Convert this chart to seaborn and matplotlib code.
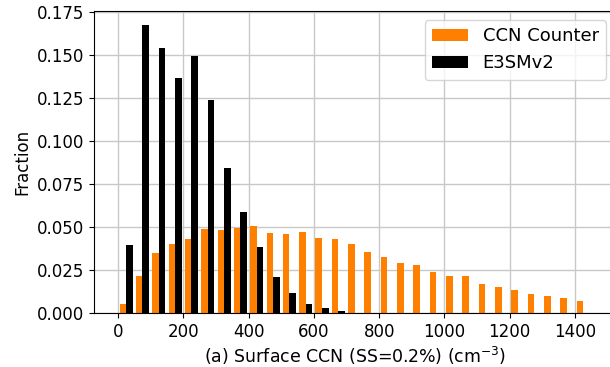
import numpy as np
import pandas as pd
import matplotlib
matplotlib.use("Agg")
import matplotlib.pyplot as plt
import seaborn as sns
from matplotlib.patches import Patch

# Bin edges (cm^-3)
bin_edges = list(range(0, 1451, 50))
bin_centers = [e + 25 for e in bin_edges[:-1]]

ccn_counter = [0.0056, 0.0217, 0.0351, 0.0401, 0.0434, 0.0488, 0.0484, 0.0496,
               0.0506, 0.0469, 0.0459, 0.0471, 0.0438, 0.0434, 0.0402, 0.0356,
               0.0329, 0.0292, 0.0283, 0.0240, 0.0215, 0.0215, 0.0172, 0.0155,
               0.0134, 0.0114, 0.0099, 0.0087, 0.0072]
e3smv2 = [0.0395, 0.1674, 0.1540, 0.1366, 0.1496, 0.1240, 0.0843, 0.0591,
          0.0384, 0.0211, 0.0118, 0.0054, 0.0032, 0.0015, 0.0004, 0.0003,
          0.0, 0.0, 0.0, 0.0, 0.0, 0.0, 0.0, 0.0, 0.0, 0.0, 0.0, 0.0, 0.0]

series_names = ["CCN Counter", "E3SMv2"]
colors = {"CCN Counter": "#ff8000", "E3SMv2": "#000000"}

xticks = list(range(0, 1401, 200))
yticks = [0.0, 0.025, 0.05, 0.075, 0.1, 0.125, 0.15, 0.175]

df = pd.DataFrame({
    "ccn": bin_centers * 2,
    "frac": ccn_counter + e3smv2,
    "source": [series_names[0]] * len(bin_centers) + [series_names[1]] * len(bin_centers),
})

fig = plt.figure(figsize=(6.10, 3.67), dpi=100)
ax = fig.add_axes([94.3 / 610, 53.7 / 367, 520.7 / 610, 302.3 / 367])

sns.histplot(data=df, x="ccn", weights="frac", hue="source", hue_order=series_names,
             bins=bin_edges, multiple="dodge", shrink=0.8, palette=colors,
             alpha=1.0, linewidth=0, legend=False, ax=ax)

ax.set_axisbelow(True)
ax.grid(True, color="#c8c8c8", linewidth=1.0)
ax.set_xticks(xticks)
ax.set_yticks(yticks)
ax.set_yticklabels([f"{v:.3f}" for v in yticks])
ax.tick_params(labelsize=12)
ax.set_xlabel("(a) Surface CCN (SS=0.2%) (cm$^{-3}$)", fontsize=12.5, labelpad=3)
ax.set_ylabel("Fraction", fontsize=12)
ax.set_xlim(-72.5, 1522.5)
ax.set_ylim(0, 0.1757)

handles = [Patch(facecolor=colors[n], edgecolor="none", label=n) for n in series_names]
ax.legend(handles=handles, loc="upper right", fontsize=13)

fig.savefig("out.png", dpi=100)
